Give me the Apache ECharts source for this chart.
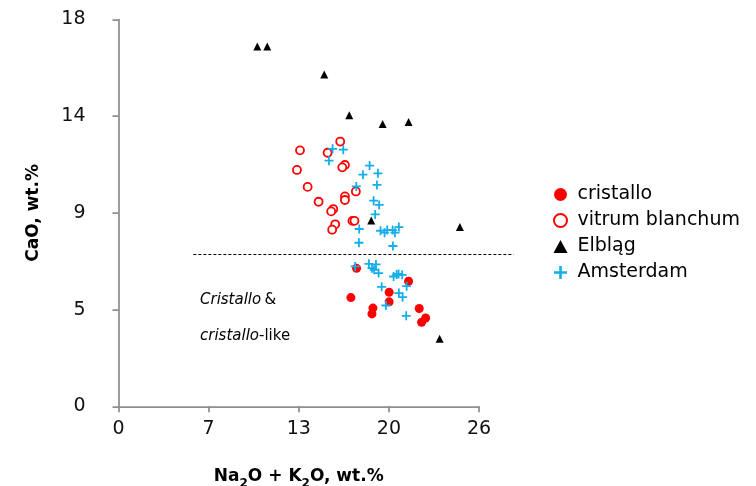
<!DOCTYPE html>
<html>
<head>
<meta charset="utf-8">
<script src="https://cdn.jsdelivr.net/npm/echarts@6/dist/echarts.min.js"></script>
<style>html,body{margin:0;padding:0;background:#fff}#c{width:756px;height:486px}</style>
</head>
<body>
<div id="c"></div>
<script>
// Data: [Na2O + K2O, CaO]
var cristallo = [
  [17.17, 6.42], [20.92, 5.82], [16.76, 5.06], [19.52, 5.31], [19.52, 4.86],
  [18.35, 4.57], [18.28, 4.30], [21.69, 4.55], [22.15, 4.11], [21.86, 3.91]
];
var vitrumBlanchum = [
  [13.09, 11.91], [15.99, 12.32], [15.08, 11.80], [12.87, 11.00], [16.33, 11.23],
  [16.14, 11.12], [13.64, 10.21], [17.12, 10.00], [14.43, 9.52], [16.33, 9.77],
  [16.33, 9.60], [15.49, 9.18], [15.34, 9.07], [16.87, 8.63], [17.02, 8.63],
  [15.63, 8.47], [15.41, 8.22]
];
var elblag = [
  [10.01, 16.74], [10.73, 16.74], [14.84, 15.44], [16.64, 13.54], [19.05, 13.14],
  [20.92, 13.23], [18.23, 8.65], [24.62, 8.34], [23.16, 3.14]
];
var amsterdam = [
  [15.44, 11.98], [16.21, 11.94], [15.18, 11.43], [18.11, 11.20], [17.63, 10.78],
  [18.71, 10.84], [18.64, 10.30], [17.15, 10.23], [18.40, 9.57], [18.80, 9.37],
  [18.51, 8.93], [17.36, 8.25], [18.90, 8.17], [19.19, 8.08], [19.38, 8.20],
  [19.77, 8.20], [19.94, 8.08], [20.22, 8.34], [17.34, 7.61], [19.79, 7.46],
  [17.07, 6.51], [18.06, 6.63], [18.57, 6.60], [18.28, 6.43], [18.44, 6.35],
  [18.76, 6.20], [19.84, 6.04], [20.06, 6.13], [20.20, 6.16], [20.46, 6.12],
  [20.78, 5.59], [18.98, 5.56], [20.22, 5.27], [20.49, 5.08], [19.29, 4.69],
  [20.75, 4.21]
];
var dividerLine = [[5.4, 7.1], [28.5, 7.1]];
var seriesNames = ['cristallo', 'vitrum blanchum', 'Elbląg', 'Amsterdam'];
var xRange = [0, 26, 6.5];
var yRange = [0, 18, 4.5];

var FONT = '"DejaVu Sans", sans-serif';
var AXIS_COLOR = '#8f8f8f';
var plusPath = 'path://M4,0H6V4H10V6H6V10H4V6H0V4H4Z';

var chart = echarts.init(document.getElementById('c'), null, {renderer: 'canvas'});
chart.setOption({
  animation: false,
  backgroundColor: '#fff',
  textStyle: {fontFamily: FONT},
  grid: {left: 118.5, right: 277, top: 19.5, bottom: 79.7, containLabel: false, outerBoundsMode: 'none'},
  xAxis: {
    type: 'value', min: xRange[0], max: xRange[1], interval: xRange[2],
    splitLine: {show: false},
    axisLine: {lineStyle: {color: AXIS_COLOR, width: 1.75}},
    axisTick: {show: true, length: 6, lineStyle: {color: AXIS_COLOR, width: 1.75}},
    axisLabel: {formatter: function (v) { return Math.round(v); }, color: '#111', fontSize: 19, fontFamily: FONT, margin: 13},
    name: '{b|Na}{s|2}{b|O + K}{s|2}{b|O, wt.%}',
    nameLocation: 'middle', nameGap: 57,
    nameTextStyle: {
      rich: {
        b: {fontSize: 17, fontWeight: 'bold', fontFamily: FONT, color: '#000', lineHeight: 22, verticalAlign: 'bottom'},
        s: {fontSize: 12, fontWeight: 'bold', fontFamily: FONT, color: '#000', lineHeight: 22, verticalAlign: 'bottom', padding: [0, 0, -5, 0]}
      }
    }
  },
  yAxis: {
    type: 'value', min: yRange[0], max: yRange[1], interval: yRange[2],
    splitLine: {show: false},
    axisLine: {lineStyle: {color: AXIS_COLOR, width: 1.75}},
    axisTick: {show: true, length: 6, lineStyle: {color: AXIS_COLOR, width: 1.75}},
    axisLabel: {formatter: function (v) { return Math.round(v); }, color: '#111', fontSize: 19, fontFamily: FONT, margin: 33},
    name: 'CaO, wt.%',
    nameLocation: 'middle', nameGap: 76,
    nameTextStyle: {fontSize: 17, fontWeight: 'bold', fontFamily: FONT, color: '#000'}
  },
  legend: {
    orient: 'vertical', left: 548, top: 180,
    data: seriesNames,
    itemWidth: 14, itemHeight: 13, itemGap: 7,
    textStyle: {fontSize: 19, fontFamily: FONT, color: '#000', lineHeight: 19, padding: [0, 0, 0, 5]},
    selectedMode: false
  },
  series: [
    {
      name: 'cristallo', type: 'scatter', data: cristallo,
      symbol: 'circle', symbolSize: 9,
      itemStyle: {color: '#ff0000', opacity: 1}
    },
    {
      name: 'vitrum blanchum', type: 'scatter', data: vitrumBlanchum,
      symbol: 'circle', symbolSize: 8,
      itemStyle: {color: '#ffffff', borderColor: '#ff0000', borderWidth: 1.8, opacity: 1}
    },
    {
      name: 'Elbląg', type: 'scatter', data: elblag,
      symbol: 'triangle', symbolSize: 8,
      itemStyle: {color: '#000000', opacity: 1}
    },
    {
      name: 'Amsterdam', type: 'scatter', data: amsterdam,
      symbol: plusPath, symbolSize: 9,
      itemStyle: {color: '#14aeea', opacity: 1}
    }
  ],
  graphic: [
    {
      id: 'note1', type: 'text', left: 200, top: 293,
      style: {
        text: '{i|Cristallo} {n|&}',
        rich: {
          i: {fontSize: 15, fontStyle: 'italic', fontFamily: FONT, fill: '#000'},
          n: {fontSize: 15, fontFamily: FONT, fill: '#000'}
        }
      }
    },
    {
      id: 'note2', type: 'text', left: 200, top: 329,
      style: {
        text: '{i|cristallo}{n|-like}',
        rich: {
          i: {fontSize: 15, fontStyle: 'italic', fontFamily: FONT, fill: '#000'},
          n: {fontSize: 15, fontFamily: FONT, fill: '#000'}
        }
      }
    }
  ]
});

// Dividing dashed line: extends beyond the axis extent, so map its data ends through the grid's scale
var p0 = chart.convertToPixel({gridIndex: 0}, dividerLine[0]);
var p1 = chart.convertToPixel({gridIndex: 0}, dividerLine[1]);
chart.setOption({
  graphic: [{
    id: 'divider', type: 'line', silent: true, z: 1,
    shape: {x1: p0[0], y1: Math.round(p0[1]) + 0.5, x2: p1[0], y2: Math.round(p1[1]) + 0.5},
    style: {stroke: '#000', lineWidth: 1, lineDash: [3, 2]}
  }]
});
</script>
</body>
</html>
